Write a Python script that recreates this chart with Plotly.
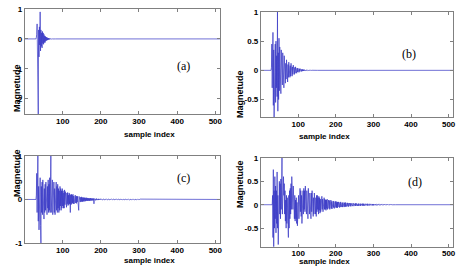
import plotly.graph_objects as go

N = 512
sample_index = list(range(1, N + 1))
x_tickvals = [100, 200, 300, 400, 500]
x_ticktext = ["100", "200", "300", "400", "500"]

# ---- panel (a): first non-zero region starts at sample 30
a_start = 30
a_values = [
    0, 0.05, 0.15, 0.5, -0.3, -1.4, -2.5, 0.3, -0.6, 0.4,
    -0.2, 0.9, -0.4, 0.3, -0.25, 0.2, -0.3, 0.25, -0.15, 0.2,
    -0.18, 0.15, -0.12, 0.1, -0.12, 0.08, -0.07, 0.06, -0.05, 0.05,
    -0.04, 0.03, -0.03, 0.025, -0.02, 0.02, -0.015, 0.01, -0.01, 0.008,
    -0.006, 0.005, -0.004, 0.003, -0.002, 0.002, -0.001, 0.001, 0, 0,
]
a_ytick = [-2, -1, 0, 1]
a_yticktext = ["-2", "-1", "0", "1"]

# ---- panel (b)
b_start = 28
b_values = [
    0, 0.05, 0.45, -0.3, 0.2, 0.65, -0.6, 0.35, -0.8, 0.3,
    -0.4, 0.45, -0.55, 0.5, -0.3, 0.25, -0.45, 1.0, -0.7, 0.3,
    -0.5, 0.55, -0.35, 0.4, -0.3, 0.25, -0.4, 0.35, -0.2, 0.3,
    -0.25, 0.3, -0.2, 0.15, -0.3, 0.25, -0.15, 0.2, -0.22, 0.12,
    -0.15, 0.18, -0.1, 0.15, -0.2, 0.1, -0.12, 0.14, -0.08, 0.1,
    -0.12, 0.08, -0.1, 0.12, -0.07, 0.08, -0.1, 0.06, -0.07, 0.09,
    -0.05, 0.06, -0.07, 0.05, -0.05, 0.06, -0.04, 0.04, -0.05, 0.035,
    -0.03, 0.04, -0.03, 0.03, -0.035, 0.025, -0.02, 0.03, -0.02, 0.02,
    -0.02, 0.015, -0.015, 0.018, -0.012, 0.012, -0.01, 0.012, -0.01, 0.008,
    -0.008, 0.01, -0.006, 0.007, -0.006, 0.005, -0.005, 0.005, -0.004, 0.004,
    -0.003, 0.003, -0.003, 0.002, -0.002, 0.002, -0.002, 0.001, -0.001, 0.001,
    0, 0, 0,
]
b_ytick = [-0.5, 0, 0.5, 1]
b_yticktext = ["-0.5", "0", "0.5", "1"]

# ---- panel (c)
c_start = 30
c_values = [
    0, 0.1, 0.6, -0.3, 0.4, 1.0, -0.5, 0.3, -0.7, 0.2,
    -0.4, 0.5, -0.6, -1.0, 0.3, -0.3, 0.4, -0.35, 0.45, -0.2,
    0.3, -0.45, 0.25, -0.3, 0.35, -0.25, 0.4, -0.3, 0.2, -0.35,
    0.3, -0.2, 0.45, -0.3, 0.35, -0.25, 0.5, -0.3, 0.4, 1.0,
    -0.3, 0.35, -0.25, 0.45, -0.35, 0.3, -0.2, 0.4, -0.3, 0.25,
    -0.35, 0.3, -0.2, 0.4, -0.25, 0.3, -0.3, 0.35, -0.2, 0.25,
    -0.3, 0.2, -0.25, 0.3, -0.15, 0.25, -0.25, 0.2, -0.2, 0.25,
    -0.15, 0.2, -0.2, 0.15, -0.2, 0.22, -0.12, 0.18, -0.15, 0.12,
    -0.18, 0.15, -0.1, 0.16, -0.14, 0.1, -0.12, 0.15, -0.1, 0.12,
    -0.3, 0.1, -0.12, 0.12, -0.1, 0.1, -0.08, 0.12, -0.1, 0.08,
    -0.1, 0.09, -0.07, 0.1, -0.08, 0.07, -0.09, 0.08, -0.06, 0.07,
    -0.07, 0.06, -0.25, 0.07, -0.05, 0.06, -0.06, 0.05, -0.05, 0.06,
    -0.05, 0.04, -0.05, 0.05, -0.04, 0.04, -0.05, 0.04, -0.03, 0.04,
    -0.04, 0.035, -0.03, 0.04, -0.03, 0.03, -0.035, 0.03, -0.025, 0.03,
    -0.03, 0.025, -0.03, 0.03, -0.02, 0.025, -0.025, 0.02, -0.02, 0.025,
    -0.02, 0.02, -0.1, 0.02, -0.015, 0.02, -0.02, 0.015, -0.015, 0.02,
    -0.015, 0.015, -0.015, 0.012, -0.012, 0.015, -0.012, 0.01, -0.012, 0.012,
    0.012, 0.015, 0.006, -0.008, -0.016, -0.01, 0.004, 0.014, 0.012, -0.002,
    -0.013, -0.014, -0.003, 0.01, 0.015, 0.006, -0.008, -0.014, -0.009, 0.004,
    0.013, 0.011, -0.002, -0.012, -0.013, -0.002, 0.01, 0.013, 0.005, -0.007,
    -0.013, -0.008, 0.004, 0.012, 0.01, -0.002, -0.011, -0.011, 0.0, 0.01,
    0.012, 0.004, -0.008, -0.012, -0.006, 0.006, 0.012, 0.008, -0.004, -0.011,
    -0.009, 0.002, 0.011, 0.01, 0.0, -0.01, -0.011, -0.002, 0.009, 0.011,
    0.004, -0.007, -0.011, -0.006, 0.005, 0.011, 0.007, -0.003, -0.01, -0.008,
    0.002, 0.01, 0.009, 0.0, -0.009, -0.01, -0.002, 0.008, 0.01, 0.004,
    -0.006, -0.01, -0.006, 0.004, 0.01, 0.007, -0.002, -0.009, -0.008, 0.0,
    0.008, 0.009, 0.002, -0.007, -0.009, -0.004, 0.005, 0.009, 0.006, -0.003,
    -0.008, -0.007, 0.001, 0.008, 0.008, 0.0, -0.007, -0.008, -0.002, 0.006,
    0.008, 0.004, -0.004, -0.008, -0.005, 0.003, 0.007, 0.006, -0.001, -0.007,
    -0.006, 0.0, 0.006, 0.007, 0.002, -0.005, -0.007, -0.003, 0.004, 0.007,
    0.004, -0.003, -0.006, -0.005, 0.001, 0.006, 0.005, -0.001, -0.006, -0.005,
    0.0, 0.005, 0.006, 0.001, -0.004, -0.006, -0.002, 0.004, 0.005, 0.003,
    -0.003, -0.005, -0.003, 0.002, 0.005, 0.004, -0.001, -0.005, -0.004, 0.0,
    0.004, 0.004, 0.001, -0.003, -0.004, -0.002, 0.003, 0.004, 0.002, -0.002,
    -0.004, -0.002, 0.001, 0.003, 0.003, 0.0, -0.003, -0.003, -0.001, 0.002,
    0.003, 0.002, -0.001, -0.003, -0.002, 0.001, 0.002, 0.002, 0.0, -0.002,
    -0.002, 0.0, 0.002, 0.002, 0.0, -0.001, -0.002, -0.001, 0.001, 0.001,
    0.001, 0.0, -0.001, -0.001, 0.0, 0.001, 0.001, 0.0, -0.001, 0.0,
]
c_ytick = [-1, 0, 1]
c_yticktext = ["-1", "0", "1"]

# ---- panel (d)
d_start = 31
d_values = [
    0, 0.2, -0.7, 0.75, -0.9, 0.3, -0.5, 0.6, -0.3, 0.4,
    -0.6, 0.3, -0.4, 0.7, -0.5, 0.2, -0.85, 0.4, -0.3, 0.5,
    -0.2, 0.45, -0.3, 0.55, -0.1, 0.4, 1.0, -0.2, 0.5, -0.1,
    0.6, 0.2, 0.45, -0.2, 0.3, -0.35, 0.1, -0.5, 0.2, -0.4,
    0.15, -0.55, 0.1, -0.7, 0.2, -0.5, 0.3, -0.3, 0.35, -0.2,
    0.45, -0.1, 0.6, 0.1, 0.5, -0.1, 0.4, -0.2, 0.3, -0.3,
    0.2, -0.35, 0.1, -0.3, 0.15, -0.4, 0.05, -0.45, 0.1, -0.35,
    0.2, -0.3, 0.3, -0.1, 0.35, -0.15, 0.3, -0.25, 0.2, -0.4,
    0.1, -0.3, 0.3, -0.2, 0.35, -0.1, 0.3, -0.15, 0.4, -0.1,
    0.35, -0.2, 0.3, -0.25, 0.2, -0.3, 0.35, -0.1, 0.3, -0.2,
    0.25, -0.25, 0.2, -0.3, 0.25, -0.15, 0.3, -0.2, 0.2, -0.25,
    0.15, -0.2, 0.25, -0.15, 0.2, -0.2, 0.15, -0.25, 0.2, -0.15,
    0.2, -0.1, 0.15, -0.2, 0.18, -0.12, 0.15, -0.18, 0.12, -0.15,
    0.15, -0.12, 0.18, -0.1, 0.12, -0.15, 0.1, -0.12, 0.15, -0.1,
    0.12, -0.1, 0.1, -0.12, 0.1, -0.08, 0.12, -0.1, 0.08, -0.1,
    0.1, -0.08, 0.09, -0.1, 0.08, -0.07, 0.1, -0.08, 0.07, -0.09,
    0.08, -0.07, 0.08, -0.06, 0.07, -0.08, 0.06, -0.07, 0.07, -0.06,
    0.07, -0.06, 0.05, -0.07, 0.06, -0.05, 0.06, -0.05, 0.05, -0.06,
    0.05, -0.05, 0.06, -0.04, 0.05, -0.05, 0.04, -0.05, 0.05, -0.04,
    0.04, -0.05, 0.04, -0.04, 0.05, -0.04, 0.04, -0.04, 0.035, -0.04,
    0.04, -0.035, 0.035, -0.04, 0.03, -0.035, 0.035, -0.03, 0.03, -0.035,
    0.03, -0.03, 0.035, -0.03, 0.03, -0.025, 0.03, -0.03, 0.025, -0.03,
    0.025, -0.025, 0.03, -0.025, 0.025, -0.02, 0.025, -0.025, 0.02, -0.025,
    0.025, -0.02, 0.025, -0.022, 0.02, -0.024, 0.022, -0.02, 0.022, -0.02,
    0.022, -0.02, 0.021, -0.018, 0.02, -0.02, 0.018, -0.019, 0.02, -0.018,
    0.02, -0.018, 0.02, -0.017, 0.019, -0.018, 0.017, -0.018, 0.019, -0.016,
    0.017, -0.016, 0.018, -0.015, 0.016, -0.016, 0.015, -0.015, 0.016, -0.014,
    0.014, -0.014, 0.015, -0.013, 0.014, -0.013, 0.013, -0.013, 0.012, -0.012,
    0.012, -0.011, 0.012, -0.01, 0.011, -0.01, 0.01, -0.01, 0.01, -0.009,
    0.009, -0.009, 0.009, -0.008, 0.008, -0.008, 0.007, -0.007, 0.007, -0.007,
    0.006, -0.006, 0.006, -0.005, 0.005, -0.005, 0.005, -0.004, 0.004, -0.004,
    0.004, -0.003, 0.003, -0.003, 0.003, -0.002, 0.002, -0.002, 0.002, -0.001,
    0.001, -0.001, 0.001, -0.001, 0.0, 0.0,
]
d_ytick = [-0.5, 0, 0.5, 1]
d_yticktext = ["-0.5", "0", "0.5", "1"]

panel_labels = ["(a)", "(b)", "(c)", "(d)"]
x_title = "sample index"
y_title = "Magnetude"


def full_series(start, vals):
    y = [0.0] * N
    for i, v in enumerate(vals):
        y[start - 1 + i] = v
    return y


LINE = "#3434c4"
AX = "#808080"
tickfont = dict(family="Liberation Sans, Arial", size=8, color="black", weight="bold")

fig = go.Figure()
series = [(a_start, a_values), (b_start, b_values), (c_start, c_values), (d_start, d_values)]
for k, (st, vals) in enumerate(series):
    suffix = "" if k == 0 else str(k + 1)
    fig.add_trace(go.Scatter(
        x=sample_index, y=full_series(st, vals), mode="lines",
        line=dict(color=LINE, width=0.7),
        xaxis="x" + suffix, yaxis="y" + suffix, hoverinfo="skip",
    ))

domains = [
    ((0.054, 0.477), (0.590, 0.968), (-2.5, 1), a_ytick, a_yticktext),
    ((0.566, 0.983), (0.579, 0.957), (-0.8, 1), b_ytick, b_yticktext),
    ((0.054, 0.477), (0.126, 0.439), (-1, 1), c_ytick, c_yticktext),
    ((0.566, 0.983), (0.112, 0.432), (-0.9, 1), d_ytick, d_yticktext),
]

layout = dict(
    width=461, height=278, autosize=False,
    margin=dict(l=0, r=0, t=0, b=0),
    paper_bgcolor="white", plot_bgcolor="white",
    showlegend=False,
)
common = dict(showline=True, linecolor=AX, linewidth=1, mirror="allticks",
              ticks="inside", ticklen=3, tickcolor=AX, showgrid=False,
              zeroline=False, tickfont=tickfont, fixedrange=True, automargin=False)
for k, (xd, yd, yr, ytv, ytt) in enumerate(domains):
    suffix = "" if k == 0 else str(k + 1)
    layout["xaxis" + suffix] = dict(domain=list(xd), range=[1, 512],
                                    anchor="y" + suffix, tickvals=x_tickvals,
                                    ticktext=x_ticktext, ticklabelstandoff=-1, **common)
    layout["yaxis" + suffix] = dict(domain=list(yd), range=list(yr),
                                    anchor="x" + suffix, tickvals=ytv,
                                    ticktext=ytt, **common)
fig.update_layout(**layout)

H = 278.0
ann = []
letter_pos = [(183, 57), (418, 45), (183, 178), (424, 182)]
for lab, (px, py) in zip(panel_labels, letter_pos):
    ann.append(dict(text=lab, x=px / 461.0, y=1 - py / H, xref="paper", yref="paper",
                    showarrow=False, font=dict(family="Liberation Serif", size=12, color="black")))
xt_pos = [(122, 134), (352, 136), (122, 267), (352, 268)]
for px, py in xt_pos:
    ann.append(dict(text=x_title, x=px / 461.0, y=1 - py / H, xref="paper", yref="paper",
                    showarrow=False, font=dict(family="Liberation Sans, Arial", size=8,
                                               color="black", weight="bold")))
yt_pos = [(10, 62), (240, 68), (10, 199), (240, 210)]
for px, py in yt_pos:
    ann.append(dict(text=y_title, x=px / 461.0, y=1 - py / H, xref="paper", yref="paper",
                    showarrow=False, textangle=-90,
                    font=dict(family="Liberation Sans, Arial", size=9,
                              color="black", weight="bold")))
fig.update_layout(annotations=ann)

fig.write_html("out.html", config={"displayModeBar": False},
               post_script="document.body.style.margin='0';document.body.style.overflow='hidden';")
